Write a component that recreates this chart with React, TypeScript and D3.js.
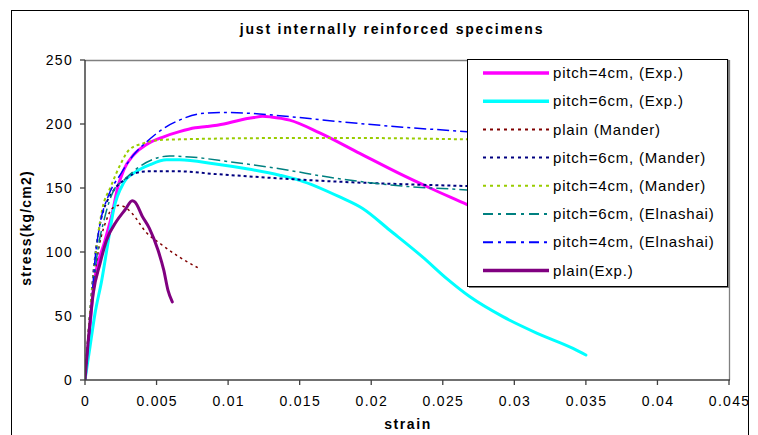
import React from "react";
import * as d3 from "d3";

const title = "just internally reinforced specimens";
const xTicks = [0, 0.005, 0.01, 0.015, 0.02, 0.025, 0.03, 0.035, 0.04, 0.045];
const xTickLabels = ["0", "0.005", "0.01", "0.015", "0.02", "0.025", "0.03", "0.035", "0.04", "0.045"];
const yTicks = [0, 50, 100, 150, 200, 250];

const pitch4ExpStrain = [0, 0.0003, 0.0006, 0.0014, 0.0019, 0.0023, 0.0027, 0.0034, 0.0043, 0.0055, 0.0066, 0.0077, 0.0085, 0.0097, 0.0108, 0.0118, 0.0124, 0.013, 0.0143, 0.0164, 0.0192, 0.0222, 0.0241, 0.0267, 0.03];
const pitch4ExpStress = [0, 35, 73, 109, 130, 151, 164, 176, 184, 190, 194, 197, 198, 200, 203, 205, 206, 205.5, 203, 193, 177, 160, 150, 137, 120];

const pitch6ExpStrain = [0, 0.00035, 0.0007, 0.00117, 0.00163, 0.002, 0.0027, 0.0036, 0.0045, 0.0057, 0.0066, 0.009, 0.0113, 0.0136, 0.015, 0.0178, 0.0194, 0.0213, 0.0236, 0.0253, 0.0269, 0.0292, 0.0316, 0.0341, 0.035];
const pitch6ExpStress = [0, 26, 52, 78, 109, 133, 154, 163, 168, 172, 172, 169, 165, 160, 156, 143, 134, 117, 96, 79, 65, 49.5, 36.5, 24.7, 19.5];

const plainManderStrain = [0, 0.0003, 0.0006, 0.001, 0.0015, 0.0019, 0.0024, 0.0028, 0.0033, 0.0043, 0.0052, 0.0066, 0.008];
const plainManderStress = [0, 45, 75, 105, 125, 134, 136.5, 135, 130, 115, 107, 96, 87];

const pitch6ManderStrain = [0, 0.0003, 0.0006, 0.00105, 0.002, 0.0027, 0.0034, 0.0043, 0.0066, 0.009, 0.0136, 0.0176, 0.0222, 0.0267, 0.03];
const pitch6ManderStress = [0, 45, 85, 122, 148, 156, 161, 163, 163, 161, 157.5, 155, 153, 151.5, 150.5];

const pitch4ManderStrain = [0, 0.0003, 0.0006, 0.0012, 0.0018, 0.0025, 0.0031, 0.0041, 0.0052, 0.0066, 0.0136, 0.02, 0.0267, 0.03];
const pitch4ManderStress = [0, 45, 83, 133, 151, 169, 180, 185, 187.5, 188, 189, 189, 188, 187.5];

const pitch6ElnStrain = [0, 0.0004, 0.0008, 0.0014, 0.002, 0.0027, 0.0038, 0.0052, 0.0059, 0.0076, 0.0101, 0.0118, 0.0136, 0.0176, 0.0222, 0.0267, 0.03];
const pitch6ElnStress = [0, 50, 94, 128, 148, 156, 166.6, 174, 175, 174, 170.5, 168, 165, 157.5, 151.5, 148.5, 146];

const pitch4ElnStrain = [0, 0.00035, 0.0007, 0.00105, 0.0016, 0.0025, 0.0034, 0.0043, 0.0057, 0.0066, 0.008, 0.0094, 0.0113, 0.0136, 0.0176, 0.0222, 0.0267, 0.03];
const pitch4ElnStress = [0, 42, 94, 122, 143, 161, 176, 186, 198, 203, 208, 209, 208.5, 206.5, 202, 197.5, 194, 191];

const plainExpStrain = [0, 0.00023, 0.00058, 0.00105, 0.0015, 0.0022, 0.0028, 0.0033, 0.0035, 0.004, 0.0045, 0.0051, 0.0055, 0.0058, 0.0061];
const plainExpStress = [0, 31, 68, 91, 109, 124, 133, 140, 139, 128, 118.5, 101.5, 86, 70, 61];

const seriesNames = [
  "pitch=4cm, (Exp.)",
  "pitch=6cm, (Exp.)",
  "plain (Mander)",
  "pitch=6cm, (Mander)",
  "pitch=4cm, (Mander)",
  "pitch=6cm, (Elnashai)",
  "pitch=4cm, (Elnashai)",
  "plain(Exp.)",
];
const seriesStrain = [pitch4ExpStrain, pitch6ExpStrain, plainManderStrain, pitch6ManderStrain, pitch4ManderStrain, pitch6ElnStrain, pitch4ElnStrain, plainExpStrain];
const seriesStress = [pitch4ExpStress, pitch6ExpStress, plainManderStress, pitch6ManderStress, pitch4ManderStress, pitch6ElnStress, pitch4ElnStress, plainExpStress];
const seriesColors = ["#FF00FF", "#00FFFF", "#800000", "#000080", "#99CC00", "#008080", "#0000FF", "#800080"];
const seriesWidths = [3, 3, 1.5, 2, 2, 1.5, 1.5, 3];
const seriesDash = ["", "", "2.5,3.5", "3,3", "3,3", "12,4,3,4", "12,4,3,4", ""];
const legendDash = ["", "", "3,4", "3,4", "3,4", "10,5,3,5", "10,5,3,5", ""];

const W = 758;
const H = 435;
const plot = { left: 85, right: 729, top: 60, bottom: 380 };

export default function App() {
  const x = d3.scaleLinear().domain([0, 0.045]).range([plot.left, plot.right]);
  const y = d3.scaleLinear().domain([0, 250]).range([plot.bottom, plot.top]);
  const line = d3
    .line<[number, number]>()
    .x((d) => x(d[0]))
    .y((d) => y(d[1]))
    .curve(d3.curveMonotoneX);

  const font = "'Liberation Sans', Arial, sans-serif";
  const legend = { x: 467, y: 59, w: 260, h: 227, rowH: 28.2, firstY: 73 };

  return (
    <svg
      width={W}
      height={H}
      style={{ position: "absolute", left: 0, top: 0, background: "#fff" }}
      fontFamily={font}
    >
      <rect x={0} y={0} width={W} height={H} fill="#fff" />
      <rect x={11.5} y={10.5} width={737} height={440} fill="none" stroke="#000" strokeWidth={1} />
      <text
        x={392}
        y={34}
        textAnchor="middle"
        fontSize={14}
        fontWeight="bold"
        letterSpacing={1.8}
      >
        {title}
      </text>

      <defs>
        <clipPath id="plotClip">
          <rect x={plot.left} y={plot.top} width={plot.right - plot.left} height={plot.bottom - plot.top} />
        </clipPath>
      </defs>

      {/* plot border */}
      <line x1={plot.left} x2={plot.right} y1={plot.top + 0.5} y2={plot.top + 0.5} stroke="#808080" strokeWidth={1.3} />
      <line x1={plot.right + 0.5} x2={plot.right + 0.5} y1={plot.top} y2={plot.bottom} stroke="#808080" strokeWidth={1.3} />

      {/* series */}
      <g clipPath="url(#plotClip)">
        {seriesNames.map((name, i) => {
          const pts = seriesStrain[i].map((s, j) => [s, seriesStress[i][j]] as [number, number]);
          return (
            <path
              key={name}
              d={line(pts) || ""}
              fill="none"
              stroke={seriesColors[i]}
              strokeWidth={seriesWidths[i]}
              strokeDasharray={seriesDash[i] || undefined}
              strokeLinejoin="round"
              strokeLinecap={seriesDash[i] ? "butt" : "round"}
            />
          );
        })}
      </g>

      {/* axes */}
      <line x1={plot.left} x2={plot.left} y1={plot.top} y2={plot.bottom} stroke="#404040" strokeWidth={1.5} />
      <line x1={plot.left} x2={plot.right + 1} y1={plot.bottom} y2={plot.bottom} stroke="#404040" strokeWidth={1.5} />
      {yTicks.map((t) => (
        <g key={"y" + t}>
          <line x1={plot.left - 5} x2={plot.left} y1={y(t)} y2={y(t)} stroke="#404040" strokeWidth={1.3} />
          <text x={73} y={y(t)} dy="0.35em" textAnchor="end" fontSize={14} letterSpacing={1.3}>
            {t}
          </text>
        </g>
      ))}
      {xTicks.map((t, i) => (
        <g key={"x" + t}>
          <line x1={x(t)} x2={x(t)} y1={plot.bottom} y2={plot.bottom + 5} stroke="#404040" strokeWidth={1.3} />
          <text x={x(t) + 0.6} y={406} textAnchor="middle" fontSize={14} letterSpacing={1.3}>
            {xTickLabels[i]}
          </text>
        </g>
      ))}
      <text x={408} y={429} textAnchor="middle" fontSize={14} fontWeight="bold" letterSpacing={1.6}>
        strain
      </text>
      <text
        transform="translate(31,228) rotate(-90)"
        textAnchor="middle"
        fontSize={14}
        fontWeight="bold"
        letterSpacing={1.2}
      >
        stress(kg/cm2)
      </text>

      {/* legend */}
      <rect x={legend.x + 2} y={legend.y + 2} width={legend.w} height={legend.h} fill="#808080" />
      <rect x={legend.x + 0.5} y={legend.y + 0.5} width={legend.w} height={legend.h} fill="#fff" stroke="#000" strokeWidth={1} />
      {seriesNames.map((name, i) => {
        const ly = legend.firstY + i * legend.rowH;
        return (
          <g key={"lg" + name}>
            <line
              x1={483}
              x2={549}
              y1={ly}
              y2={ly}
              stroke={seriesColors[i]}
              strokeWidth={seriesWidths[i] === 3 ? 3.5 : 2}
              strokeDasharray={legendDash[i] || undefined}
            />
            <text x={553} y={ly} dy="0.35em" fontSize={15} letterSpacing={0.8}>
              {name}
            </text>
          </g>
        );
      })}
    </svg>
  );
}
